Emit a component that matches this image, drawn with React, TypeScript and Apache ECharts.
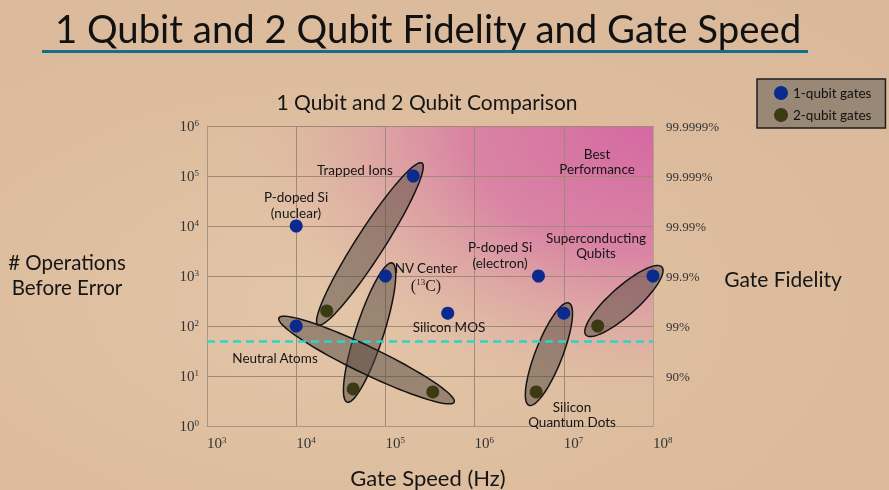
import React, { useEffect, useRef } from 'react';
import * as echarts from 'echarts';

// ---------- data ----------
const oneQubitNames = [
  'P-doped Si (nuclear)', 'Trapped Ions', 'NV Center', 'Silicon MOS',
  'P-doped Si (electron)', 'Silicon Quantum Dots', 'Superconducting Qubits', 'Neutral Atoms',
];
const oneQubitSpeedHz = [1e4, 2.05e5, 1e5, 5e5, 5.2e6, 1e7, 1e8, 1e4];
const oneQubitOps = [1e4, 1e5, 1e3, 180, 1e3, 180, 1e3, 100];

const twoQubitNames = ['Trapped Ions', 'NV Center', 'Neutral Atoms', 'Silicon Quantum Dots', 'Superconducting Qubits'];
const twoQubitSpeedHz = [2.2e4, 4.35e4, 3.4e5, 4.9e6, 2.4e7];
const twoQubitOps = [200, 5.5, 4.8, 4.8, 100];

// platform envelopes (ellipse tips, in data units)
const envelopeNames = ['Trapped Ions', 'NV Center', 'Neutral Atoms', 'Silicon Quantum Dots', 'Superconducting Qubits'];
const envelopeStartSpeedHz = [1.75e4, 3.72e4, 6.4e3, 4.07e6, 1.77e7];
const envelopeStartOps = [105, 3.0, 145, 2.6, 66];
const envelopeEndSpeedHz = [2.57e5, 1.19e5, 5.9e5, 1.14e7, 1.26e8];
const envelopeEndOps = [1.82e5, 1820, 3.0, 288, 1510];

const errorThresholdOps = 50;

const speedMin = 1e3;
const speedMax = 1e8;
const opsMin = 1;
const opsMax = 1e6;
const fidelityTickLabels = ['', '90%', '99%', '99.9%', '99.99%', '99.999%', '99.9999%'];

// ---------- styles ----------
const envelopeHalfWidthPx = [14, 14, 13.5, 13.5, 14];
const SANS = 'Lato, "Noto Sans", sans-serif';
const SERIF = '"Liberation Serif", "DejaVu Serif", serif';

export default function App() {
  const ref = useRef<HTMLDivElement>(null);

  useEffect(() => {
    document.body.style.margin = '0';
    if (!ref.current) return;
    const chart = echarts.init(ref.current, undefined, { renderer: 'svg' });

    const supRich = {
      b: { fontFamily: SERIF, fontSize: 15, color: '#333' },
      s: { fontFamily: SERIF, fontSize: 9, color: '#333', verticalAlign: 'top', padding: [0, 0, 6, 0] },
    };
    const expLabel = (v: number) => `{b|10}{s|${Math.round(Math.log10(v))}}`;

    const annot = (text: string, x: number, y: number, extra: any = {}) => ({
      type: 'text',
      x,
      y,
      z: 50,
      style: {
        text,
        fontFamily: SANS,
        fontSize: 13.5,
        fill: '#151515',
        align: 'center',
        verticalAlign: 'middle',
        textAlign: 'center',
        textVerticalAlign: 'middle',
        lineHeight: 15,
        ...extra,
      },
    });

    chart.setOption({
      animation: false,
      backgroundColor: 'transparent',
      grid: {
        left: 207,
        top: 126,
        width: 446,
        height: 300,
        show: true,
        borderWidth: 0,
        backgroundColor: {
          type: 'radial',
          x: 1,
          y: 0,
          r: 0.95,
          colorStops: [
            { offset: 0, color: 'rgba(213,104,162,1)' },
            { offset: 0.45, color: 'rgba(216,116,165,0.78)' },
            { offset: 0.75, color: 'rgba(220,140,165,0.3)' },
            { offset: 1, color: 'rgba(225,190,165,0)' },
          ],
        },
      },
      legend: {
        left: 757,
        top: 79,
        orient: 'vertical',
        icon: 'circle',
        itemWidth: 14,
        itemHeight: 14,
        itemGap: 8,
        padding: [7, 14, 6, 17],
        backgroundColor: '#9a8877',
        borderColor: '#1e1e1e',
        borderWidth: 1.5,
        textStyle: { fontFamily: SANS, fontSize: 13.5, color: '#111' },
        data: ['1-qubit gates', '2-qubit gates'],
      },
      xAxis: {
        type: 'log',
        logBase: 10,
        min: speedMin,
        max: speedMax,
        axisLine: { show: true, lineStyle: { color: '#a89482', width: 1 } },
        axisTick: { show: false },
        splitLine: { show: true, lineStyle: { color: '#a08a77', width: 1 } },
        axisLabel: {
          formatter: expLabel,
          rich: supRich,
          align: 'left',
          margin: 9,
        },
      },
      yAxis: [
        {
          type: 'log',
          logBase: 10,
          min: opsMin,
          max: opsMax,
          axisLine: { show: true, lineStyle: { color: '#a89482', width: 1 } },
          axisTick: { show: false },
          splitLine: { show: true, lineStyle: { color: '#a08a77', width: 1 } },
          axisLabel: { formatter: expLabel, rich: supRich, margin: 8 },
        },
        {
          type: 'log',
          logBase: 10,
          min: opsMin,
          max: opsMax,
          position: 'right',
          axisLine: { show: true, lineStyle: { color: '#b4a08e', width: 1 } },
          axisTick: { show: false },
          splitLine: { show: false },
          axisLabel: {
            formatter: (v: number) => fidelityTickLabels[Math.round(Math.log10(v))] || '',
            fontFamily: SERIF,
            fontSize: 13,
            color: '#333',
            margin: 13,
          },
        },
      ],
      series: [
        {
          type: 'custom',
          name: 'envelopes',
          clip: false,
          z: 1,
          encode: { x: [0, 2], y: [1, 3] },
          data: envelopeNames.map((n, i) => ({
            name: n,
            value: [envelopeStartSpeedHz[i], envelopeStartOps[i], envelopeEndSpeedHz[i], envelopeEndOps[i]],
          })),
          renderItem: (params: any, api: any) => {
            const p1 = api.coord([api.value(0), api.value(1)]);
            const p2 = api.coord([api.value(2), api.value(3)]);
            const b = envelopeHalfWidthPx[params.dataIndex];
            const cx = (p1[0] + p2[0]) / 2;
            const cy = (p1[1] + p2[1]) / 2;
            const a = Math.hypot(p2[0] - p1[0], p2[1] - p1[1]) / 2;
            const ang = Math.atan2(p2[1] - p1[1], p2[0] - p1[0]);
            const pts: number[][] = [];
            const N = 90;
            for (let k = 0; k < N; k++) {
              const t = (k / N) * Math.PI * 2;
              const ex = a * Math.cos(t);
              const ey = b * Math.sin(t);
              pts.push([
                cx + ex * Math.cos(ang) - ey * Math.sin(ang),
                cy + ex * Math.sin(ang) + ey * Math.cos(ang),
              ]);
            }
            return {
              type: 'polygon',
              shape: { points: pts },
              style: { fill: 'rgba(84,72,64,0.5)', stroke: '#141414', lineWidth: 1.5 },
            };
          },
        },
        {
          type: 'scatter',
          name: '1-qubit gates',
          clip: false,
          z: 5,
          symbolSize: 13,
          itemStyle: { color: '#0b2a8e', opacity: 1 },
          data: oneQubitNames.map((n, i) => ({ name: n, value: [oneQubitSpeedHz[i], oneQubitOps[i]] })),
          markLine: {
            silent: true,
            symbol: 'none',
            label: { show: false },
            lineStyle: { color: '#2fd3c8', width: 2.5, type: [8, 5], opacity: 1 },
            data: [{ yAxis: errorThresholdOps }],
          },
        },
        {
          type: 'scatter',
          name: '2-qubit gates',
          clip: false,
          z: 5,
          symbolSize: 13,
          itemStyle: { color: '#3b3a14', opacity: 1 },
          data: twoQubitNames.map((n, i) => ({ name: n, value: [twoQubitSpeedHz[i], twoQubitOps[i]] })),
        },
      ],
      graphic: [
        {
          type: 'text',
          x: 428,
          y: 28,
          style: {
            text: '1 Qubit and 2 Qubit Fidelity and Gate Speed',
            fontFamily: SANS,
            fontSize: 38.3,
            fontWeight: 400,
            fill: '#111',
            align: 'center',
            verticalAlign: 'middle',
            textAlign: 'center',
            textVerticalAlign: 'middle',
          },
        },
        {
          type: 'line',
          shape: { x1: 42, y1: 51.5, x2: 808, y2: 51.5 },
          style: { stroke: '#186d8d', lineWidth: 3 },
        },
        annot('1 Qubit and 2 Qubit Comparison', 427, 101, { fontSize: 21 }),
        annot('# Operations\nBefore Error', 67, 274, { fontSize: 20.5, lineHeight: 25 }),
        annot('Gate Fidelity', 783, 278, { fontSize: 21 }),
        annot('Gate Speed (Hz)', 428, 477, { fontSize: 22 }),
        annot('Trapped Ions', 355, 170),
        annot('P-doped Si\n(nuclear)', 296, 205, { lineHeight: 16 }),
        annot('NV Center', 426, 268),
        {
          type: 'text',
          x: 426,
          y: 285,
          z: 50,
          style: {
            text: '({s|13}C)',
            fontFamily: SERIF,
            fontSize: 16,
            fill: '#222',
            align: 'center',
            verticalAlign: 'middle',
            textAlign: 'center',
            textVerticalAlign: 'middle',
            rich: { s: { fontFamily: SERIF, fontSize: 9, fill: '#222', verticalAlign: 'top', padding: [0, 0, 6, 0] } },
          },
        },
        annot('Silicon MOS', 449, 327),
        annot('P-doped Si\n(electron)', 500, 255, { lineHeight: 16 }),
        annot('Superconducting\nQubits', 596, 245, { lineHeight: 15 }),
        annot('Best\nPerformance', 597, 161, { lineHeight: 15 }),
        annot('Neutral Atoms', 275, 358),
        annot('Silicon\nQuantum Dots', 572, 414, { lineHeight: 15 }),
      ],
    });

    return () => chart.dispose();
  }, []);

  return (
    <div
      ref={ref}
      style={{
        position: 'fixed',
        left: 0,
        top: 0,
        width: 889,
        height: 490,
        background: 'radial-gradient(ellipse at 38% 62%, #e3c5a7 0%, #dcbc9d 55%, #d9b99a 100%)',
      }}
    />
  );
}
